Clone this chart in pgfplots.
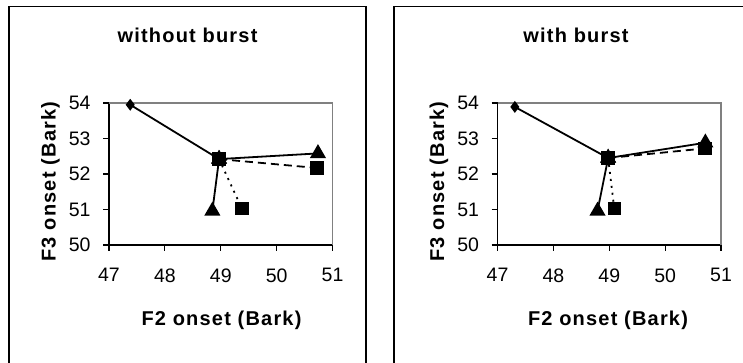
\documentclass[border=0pt]{standalone}
\usepackage{fontspec}
\setmainfont{Liberation Sans}
\newfontfamily\labfont{Liberation Sans}[LetterSpace=6]
\usepackage{pgfplots}
\pgfplotsset{compat=1.18}
\pgfplotsset{
  panel/.style={
    anchor=south west, scale only axis, width=223.5pt, height=142pt,
    xmin=47, xmax=51, ymin=50, ymax=54,
    xtick={47,48,49,50,51}, ytick={50,51,52,53,54},
    axis x line*=bottom, axis y line*=left,
    axis line style={black, line width=1.1pt, -},
    tick align=outside, major tick length=6pt,
    every tick/.style={black, line width=1.1pt},
    tick label style={font=\fontsize{19.5}{22}\selectfont},
    /pgf/number format/assume math mode=true,
    clip=false,
    xticklabel style={yshift=-14pt},
    yticklabel style={xshift=-9pt},
  },
  tri/.style={black, line width=1.8pt, mark=triangle*, mark size=7.5pt, mark options={solid}},
  sq/.style={black, line width=1.8pt, mark=square*, mark size=5.8pt, mark options={solid}},
}
\begin{document}
\begin{tikzpicture}[x=1pt,y=1pt]
\useasboundingbox (0,0) rectangle (743,363);
\draw[line width=1.2pt] (9,-10) rectangle (366,356.5);
\draw[line width=1.2pt] (394,-10) rectangle (770,356.5);
\node[font=\labfont\bfseries\fontsize{20}{23}\selectfont] at (187.5,328) {without burst};
\node[font=\labfont\bfseries\fontsize{20}{23}\selectfont] at (576,328) {with burst};
\node[font=\labfont\bfseries\fontsize{20}{23}\selectfont, rotate=90] at (50.5,181.5) {F3 onset (Bark)};
\node[font=\labfont\bfseries\fontsize{20}{23}\selectfont, rotate=90] at (439,181.5) {F3 onset (Bark)};
\node[font=\labfont\bfseries\fontsize{20}{23}\selectfont] at (221.5,43) {F2 onset (Bark)};
\node[font=\labfont\bfseries\fontsize{20}{23}\selectfont] at (608,43) {F2 onset (Bark)};

% left panel: without burst
\begin{axis}[panel, at={(109pt,118pt)}]
\draw[gray, line width=1.6pt] (rel axis cs:0,1) -- (rel axis cs:1,1) -- (rel axis cs:1,0);
\addplot[black, line width=1.8pt, mark=diamond*, mark size=4.5pt, mark indices={1}] coordinates {(47.38,53.95) (48.97,52.42)};
\addplot[tri] coordinates {(48.97,52.42) (50.74,52.58)};
\addplot[tri] coordinates {(48.97,52.42) (48.85,50.96)};
\addplot[sq, dash pattern=on 8pt off 5pt] coordinates {(48.97,52.42) (50.72,52.17)};
\addplot[sq, dash pattern=on 2pt off 5pt] coordinates {(48.97,52.42) (49.38,51.02)};
\end{axis}

% right panel: with burst
\begin{axis}[panel, at={(497.5pt,118pt)}]
\draw[gray, line width=1.6pt] (rel axis cs:0,1) -- (rel axis cs:1,1) -- (rel axis cs:1,0);
\addplot[black, line width=1.8pt, mark=diamond*, mark size=4.5pt, mark indices={1}] coordinates {(47.31,53.89) (48.98,52.45)};
\addplot[tri] coordinates {(48.98,52.45) (50.72,52.88)};
\addplot[tri] coordinates {(48.98,52.45) (48.79,50.96)};
\addplot[sq, dash pattern=on 8pt off 5pt] coordinates {(48.98,52.45) (50.71,52.72)};
\addplot[sq, dash pattern=on 2pt off 5pt] coordinates {(48.98,52.45) (49.09,51.02)};
\end{axis}
\end{tikzpicture}
\end{document}
